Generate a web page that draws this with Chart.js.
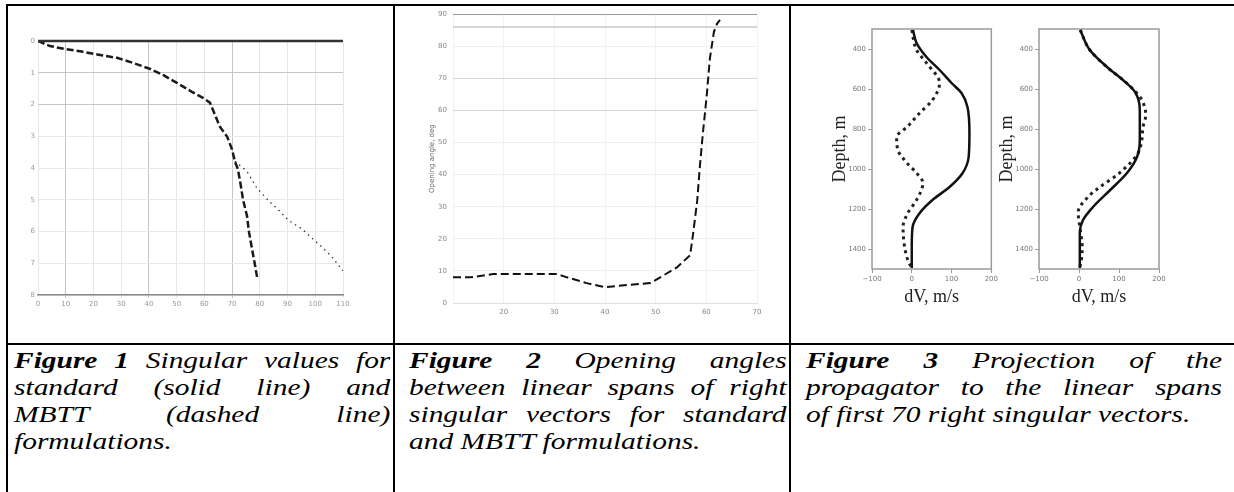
<!DOCTYPE html>
<html>
<head>
<meta charset="utf-8">
<script src="https://cdn.jsdelivr.net/npm/chart.js@4.4.1/dist/chart.umd.min.js"></script>
<style>
  body { margin: 0; width: 1234px; height: 492px; background: #fff; position: relative; overflow: hidden; }
  canvas { position: absolute; }
  .rule { position: absolute; background: #000; }
  .cap {
    position: absolute; top: 347px;
    font-family: "Liberation Serif", "Times New Roman", serif;
    font-style: italic; font-size: 23px; line-height: 27px; color: #000;
    transform-origin: 0 0; transform: scaleX(1.28);
  }
  .cap div { text-align: justify; text-align-last: justify; }
  .cap div.last { text-align: left; text-align-last: left; }
  .cap b { font-weight: bold; }
</style>
</head>
<body>
<div class="rule" style="left:6px;top:4px;width:1228px;height:2px"></div>
<div class="rule" style="left:6px;top:4px;width:2px;height:488px"></div>
<div class="rule" style="left:393px;top:4px;width:2px;height:488px"></div>
<div class="rule" style="left:789px;top:4px;width:2px;height:488px"></div>
<div class="rule" style="left:6px;top:343px;width:1228px;height:2px"></div>

<canvas id="fig1" width="380" height="322" style="left:8px;top:8px"></canvas>
<canvas id="fig2" width="390" height="334" style="left:398px;top:4px"></canvas>
<canvas id="fig3a" width="200" height="306" style="left:800px;top:4px"></canvas>
<canvas id="fig3b" width="200" height="306" style="left:985px;top:4px"></canvas>

<div class="cap" style="left:14px;width:294px">
  <div><b>Figure 1</b> Singular values for</div>
  <div>standard (solid line) and</div>
  <div>MBTT (dashed line)</div>
  <div class="last">formulations.</div>
</div>
<div class="cap" style="left:409px;width:295px">
  <div><b>Figure 2</b> Opening angles</div>
  <div>between linear spans of right</div>
  <div>singular vectors for standard</div>
  <div class="last">and MBTT formulations.</div>
</div>
<div class="cap" style="left:806px;width:325px">
  <div><b>Figure 3</b> Projection of the</div>
  <div>propagator to the linear spans</div>
  <div class="last">of first 70 right singular vectors.</div>
</div>

<script>
// Figure 1 - singular values (log10, normalised)
const svTicksX = [0, 10, 20, 30, 40, 50, 60, 70, 80, 90, 100, 110];
const stdIndex = [0, 110];
const stdValue = [0, 0];
const mbttIndex = [0, 4.3, 9.7, 16.2, 22.4, 28.5, 34.3, 40.4, 45.1, 50.1, 55.5, 59.5, 62.0, 63.8, 65.6, 68.2, 70.0, 71.0,
  72.1, 73.2, 73.9, 75.4, 76.1, 77.2, 78.3, 79.0];
const mbttValue = [0, -0.16, -0.25, -0.34, -0.44, -0.53, -0.69, -0.88, -1.07, -1.32, -1.60, -1.79, -1.94, -2.32, -2.70, -3.01, -3.42, -3.79,
  -4.04, -4.58, -4.98, -5.52, -6.02, -6.55, -7.08, -7.43];
const tailIndex = [71.0, 75.4, 79.0, 83.7, 86.5, 90.2, 95.2, 99.2, 102.4, 106.0, 110.0];
const tailValue = [-3.79, -4.11, -4.64, -5.08, -5.30, -5.64, -5.92, -6.24, -6.49, -6.80, -7.24];

// Figure 2 - opening angles
const spanCount = [10, 13.4, 17.9, 24.6, 30.5, 32.5, 36.4, 40.0, 44.3, 48.9, 50.9, 54.2, 56.8, 57.4, 58.2, 58.7, 59.3, 60.1,
  60.7, 61.5, 62.1, 62.7];
const angleDeg = [8.0, 8.0, 9.0, 9.0, 9.0, 8.0, 6.2, 4.9, 5.6, 6.2, 8.0, 11.1, 14.9, 21.7, 31.9, 42.1, 52.6, 65.0,
  76.2, 84.5, 87.0, 88.2];
const refCount = [10, 70];
const refAngle = [86, 86];

// Figure 3 - projections, depth (m) vs dV (m/s)
const depthTicks = [400, 600, 800, 1000, 1200, 1400];
const leftSolidDepth = [305, 370, 440, 505, 570, 620, 690, 820, 940, 1020, 1090, 1155, 1220, 1290, 1390, 1495];
const leftSolidDv = [3, 12, 37, 70, 100, 125, 140, 145, 143, 128, 95, 52, 20, 2, 0, 0];
const leftDashDepth = [305, 405, 470, 570, 655, 720, 790, 840, 905, 970, 1020, 1070, 1155, 1220, 1290, 1390, 1455, 1495];
const leftDashDv = [0, 12, 37, 70, 52, 20, -12, -38, -35, -12, 12, 28, 12, -10, -22, -18, -10, 0];
const rightSolidDepth = [305, 405, 490, 555, 615, 705, 855, 940, 1020, 1105, 1190, 1255, 1320, 1495];
const rightSolidDv = [3, 27, 70, 110, 140, 152, 152, 145, 120, 78, 35, 10, 2, 2];
const rightDashDepth = [305, 405, 490, 555, 615, 655, 730, 790, 855, 920, 970, 1030, 1090, 1145, 1215, 1290, 1390, 1440, 1495];
const rightDashDv = [3, 27, 70, 110, 142, 157, 167, 160, 157, 148, 128, 95, 52, 20, -2, 2, 8, 7, 2];

Chart.defaults.animation = false;
Chart.defaults.responsive = false;
Chart.defaults.devicePixelRatio = 1;
Chart.defaults.font.family = "DejaVu Sans";
Chart.defaults.plugins.legend.display = false;
Chart.defaults.plugins.tooltip.enabled = false;

function pts(xs, ys) {
  return xs.map((x, i) => ({ x: x, y: ys[i] }));
}

const tickFont = { size: 7 };

// figure 1
new Chart(document.getElementById("fig1"), {
  type: "line",
  data: {
    datasets: [
      { data: pts(stdIndex, stdValue), borderColor: "#333", borderWidth: 2.5, pointRadius: 0, clip: 4 },
      { data: pts(mbttIndex, mbttValue), borderColor: "#1a1a1a", borderWidth: 2.5, borderDash: [7, 3], pointRadius: 0 },
      { data: pts(tailIndex, tailValue), borderColor: "#333", borderWidth: 1.3, borderDash: [1.5, 4], pointRadius: 0 },
    ],
  },
  options: {
    layout: { padding: { left: 0, top: 33, right: 45, bottom: 0 } },
    scales: {
      x: {
        type: "linear", min: 0, max: 110,
        afterBuildTicks: (s) => { s.ticks = svTicksX.map((v) => ({ value: v })); },
        afterFit: (s) => { s.height = 35; },
        ticks: { font: tickFont, color: "#999", padding: 2, maxRotation: 0, callback: (v) => String(v) },
        grid: {
          color: (c) => [10, 40, 70].includes(c.tick && c.tick.value) ? "#c6c6c6" : "#e6e6e6",
          tickLength: 3,
        },
        border: { color: "#888", width: 1.5 },
      },
      y: {
        type: "linear", min: -8, max: 0,
        ticks: { stepSize: 1, font: tickFont, color: "#999", padding: 3, callback: (v) => String(Math.abs(v)) },
        afterFit: (s) => { s.width = 30; },
        grid: {
          color: (c) => [-1, -2].includes(c.tick && c.tick.value) ? "#c6c6c6" : "#e8e8e8",
          drawTicks: false,
        },
        border: { display: false },
      },
    },
  },
});

// figure 2
new Chart(document.getElementById("fig2"), {
  type: "line",
  data: {
    datasets: [
      { data: pts(refCount, refAngle), borderColor: "#b0b0b0", borderWidth: 1, pointRadius: 0 },
      { data: pts(spanCount, angleDeg), borderColor: "#111", borderWidth: 2, borderDash: [8, 4], pointRadius: 0 },
    ],
  },
  options: {
    layout: { padding: { left: 27, top: 8, right: 31, bottom: 0 } },
    scales: {
      x: {
        type: "linear", min: 10, max: 70,
        ticks: { stepSize: 10, font: tickFont, color: "#888", padding: 5, callback: (v) => (v === 10 ? "" : String(v)) },
        afterFit: (s) => { s.height = 35; },
        grid: { color: "#f2f2f2", drawTicks: false },
        border: { color: "#e0e0e0" },
      },
      y: {
        type: "linear", min: 0, max: 90,
        ticks: { stepSize: 10, font: tickFont, color: "#888", padding: 6 },
        afterFit: (s) => { s.width = 28; },
        title: { display: true, text: "Opening angle, deg", font: { size: 7 }, color: "#666", padding: { top: 3, bottom: 0 } },
        grid: {
          color: (c) => {
            const v = c.tick && c.tick.value;
            if (v === 90) return "#999";
            if (v === 60 || v === 70) return "#d8d8d8";
            return "#f0f0f0";
          },
          drawTicks: false,
        },
        border: { display: false },
      },
    },
  },
});

// figure 3 - framed depth profiles
const frame = {
  id: "frame",
  beforeDatasetsDraw(chart) {
    const { ctx, chartArea: a } = chart;
    ctx.save();
    ctx.strokeStyle = "#9a9a9a";
    ctx.lineWidth = 1.5;
    ctx.strokeRect(a.left, a.top, a.right - a.left, a.bottom - a.top);
    ctx.restore();
  },
};

function profileChart(id, solid, dashed, padLeft, padRight) {
  return new Chart(document.getElementById(id), {
    type: "line",
    plugins: [frame],
    data: {
      datasets: [
        { data: solid, borderColor: "#111", borderWidth: 2.5, pointRadius: 0, cubicInterpolationMode: "monotone" },
        { data: dashed, borderColor: "#222", borderWidth: 3, borderDash: [3, 4], pointRadius: 0, cubicInterpolationMode: "monotone" },
      ],
    },
    options: {
      indexAxis: "y",
      layout: { padding: { left: padLeft, top: 25, right: padRight, bottom: 0 } },
      scales: {
        x: {
          type: "linear", min: -100, max: 200,
          ticks: { stepSize: 100, font: tickFont, color: "#777", padding: 2, callback: (v) => (v < 0 ? "\u2212" + Math.abs(v) : String(v)) },
          afterFit: (s) => { s.height = 41; },
          title: {
            display: true, text: "dV, m/s", color: "#222",
            font: { family: "Liberation Serif", size: 18 }, padding: { top: 0, bottom: 2 },
          },
          grid: { drawOnChartArea: false, tickLength: 4, tickColor: "#999" },
          border: { display: false },
        },
        y: {
          type: "linear", min: 300, max: 1500, reverse: true,
          afterBuildTicks: (s) => { s.ticks = depthTicks.map((v) => ({ value: v })); },
          afterFit: (s) => { s.width = 45; },
          ticks: { font: tickFont, color: "#777", padding: 2, callback: (v) => String(v) },
          title: {
            display: true, text: "Depth, m", color: "#222",
            font: { family: "Liberation Serif", size: 18 }, padding: { top: 2, bottom: 0 },
          },
          grid: { drawOnChartArea: false, tickLength: 4, tickColor: "#999" },
          border: { display: false },
        },
      },
    },
  });
}

profileChart("fig3a", pts(leftSolidDv, leftSolidDepth), pts(leftDashDv, leftDashDepth), 27, 8);
profileChart("fig3b", pts(rightSolidDv, rightSolidDepth), pts(rightDashDv, rightDashDepth), 9, 26);
</script>
</body>
</html>
